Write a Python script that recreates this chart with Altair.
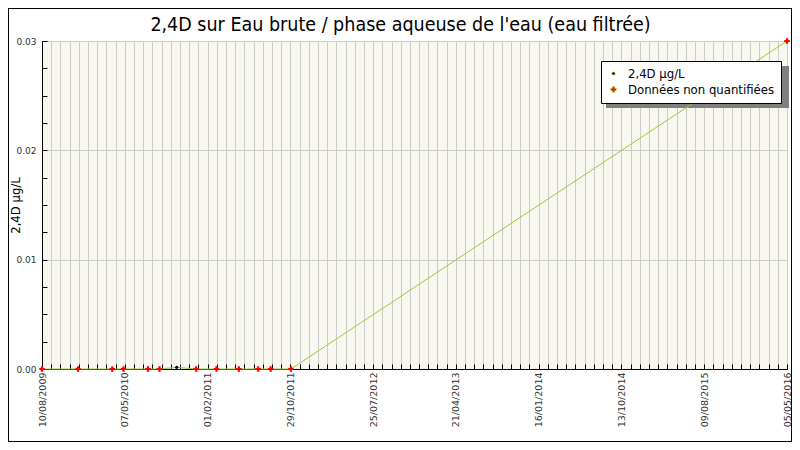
import json
from datetime import datetime, timezone
import altair as alt
import pandas as pd

# ---- data ----
dates_nq = ["2009-08-10", "2009-12-07", "2010-03-30", "2010-05-06", "2010-07-26",
            "2010-09-02", "2011-01-01", "2011-03-09", "2011-05-22", "2011-07-25",
            "2011-09-04", "2011-11-10", "2016-05-05"]
values_nq = [0, 0, 0, 0, 0, 0, 0, 0, 0, 0, 0, 0, 0.03]
dates_q = ["2010-10-29"]
values_q = [0.00015]
series_names = ["2,4D µg/L", "Données non quantifiées"]
series_colors = ["black", "red"]
tick_labels = ["10/08/2009", "07/05/2010", "01/02/2011", "29/10/2011", "25/07/2012",
               "21/04/2013", "16/01/2014", "13/10/2014", "09/08/2015", "05/05/2016"]
x_start, x_end = "2009-08-10", "2016-05-05"
y_major = [0, 0.01, 0.02, 0.03]
y_minor = [i * 0.0025 for i in range(13)]

title_text = "2,4D sur Eau brute / phase aqueuse de l'eau (eau filtrée)"
y_title = "2,4D µg/L"

# ---- build table ----
df = pd.DataFrame({
    "date": dates_nq + dates_q,
    "value": values_nq + values_q,
    "serie": [series_names[1]] * len(dates_nq) + [series_names[0]] * len(dates_q),
})

def ms(s):
    return int(datetime.strptime(s, "%Y-%m-%d").replace(tzinfo=timezone.utc).timestamp() * 1000)

T0, T1 = ms(x_start), ms(x_end)
N_GRID = 9 * (len(tick_labels) - 1)
STEP = (T1 - T0) / N_GRID
grid_values = [T0 + i * STEP for i in range(N_GRID + 1)]
idx = f"round((datum.value - {T0}) / {STEP})"
label_expr = f"({idx} % 9 == 0) ? {json.dumps(tick_labels)}[{idx} / 9] : ''"

W, H = 745, 328
PAD_L, PAD_T, PAD_R, PAD_B = 34, 33, 5, 73
LINE_COLOR = "#9acd32"
LABEL_FONT = "DejaVu Sans"
COND_FONT = "DejaVu Sans Condensed"

xscale = alt.Scale(type="utc", domain=[T0, T1], nice=False)
yscale = alt.Scale(domain=[0, 0.03], nice=False)

base = alt.Chart(df)

line = base.mark_line(color=LINE_COLOR, strokeWidth=1).encode(
    x=alt.X("date:T", scale=xscale,
            axis=alt.Axis(orient="bottom", values=grid_values, labelExpr=label_expr,
                          labelAngle=270, labelFont=LABEL_FONT, labelFontSize=9.5,
                          labelColor="#333333", labelPadding=3, ticks=False,
                          grid=True, gridColor="#cccccc", gridWidth=1,
                          domainColor="black", domainWidth=1, title="",
                          labelOverlap=False, labelBound=False)),
    y=alt.Y("value:Q", scale=yscale,
            axis=alt.Axis(orient="left", values=y_major, format=".2f",
                          labelFont=LABEL_FONT, labelFontSize=9, labelColor="#333333",
                          labelPadding=6, ticks=False, grid=True, gridColor="#cccccc",
                          domainColor="black", domainWidth=1, title=y_title,
                          titleFont=COND_FONT, titleFontSize=13, titleFontWeight="normal",
                          titleColor="black", titleX=-23, titleBaseline="alphabetic")),
    order="date:T",
)

legend_path = "M-1,0L1,0M0,-0.55L0.55,0L0,0.55L-0.55,0Z"

points = base.mark_point(filled=True, opacity=1).encode(
    x=alt.X("date:T", scale=xscale,
            axis=alt.Axis(orient="top", offset=-H, values=grid_values, labels=False,
                          ticks=True, tickSize=5, tickColor="black", tickWidth=1,
                          domain=False, grid=False, title="")),
    y=alt.Y("value:Q", scale=yscale,
            axis=alt.Axis(orient="right", offset=-W, values=y_minor, labels=False,
                          ticks=True, tickSize=5, tickColor="black", tickWidth=1,
                          domain=False, grid=False, title="")),
    color=alt.Color("serie:N",
                    scale=alt.Scale(domain=series_names, range=series_colors),
                    legend=alt.Legend(orient="none", legendX=W - 186, legendY=20, title=None,
                                      fillColor="white", strokeColor="black",
                                      padding=6, symbolType=legend_path, symbolSize=144,
                                      symbolStrokeColor=LINE_COLOR, symbolStrokeWidth=0.6,
                                      symbolOpacity=1,
                                      labelFont=COND_FONT, labelFontSize=13,
                                      labelColor="black", labelOffset=8, rowPadding=2)),
    shape=alt.Shape("serie:N", scale=alt.Scale(domain=series_names, range=["circle", "cross"]),
                    legend=None),
    size=alt.Size("serie:N", scale=alt.Scale(domain=series_names, range=[10, 30]),
                  legend=None),
)

shadow = alt.Chart(df).mark_rect(color="#808080").encode(
    x=alt.value(W - 181), x2=alt.value(W + 2), y=alt.value(25), y2=alt.value(67))

frame = alt.Chart(df).mark_rect(filled=False, stroke="black", strokeWidth=1).encode(
    x=alt.value(-PAD_L + 0.5), x2=alt.value(W + PAD_R - 0.5),
    y=alt.value(-PAD_T + 0.5), y2=alt.value(H + PAD_B - 0.5))

chart = alt.layer(shadow, line, points, frame).resolve_axis(
    x="independent", y="independent"
).properties(
    width=W, height=H,
    autosize=alt.AutoSizeParams(type="none"),
    padding={"left": PAD_L, "top": PAD_T, "right": PAD_R, "bottom": PAD_B},
    title=alt.TitleParams(title_text, font=COND_FONT, fontSize=19.5, fontWeight="normal",
                          color="black", anchor="middle", dx=-14, offset=-23, dy=23,
                          baseline="bottom"),
).configure_view(fill="#f8f8f0", strokeWidth=0)

chart.save("out.html", embed_options={"renderer": "svg", "actions": False})
